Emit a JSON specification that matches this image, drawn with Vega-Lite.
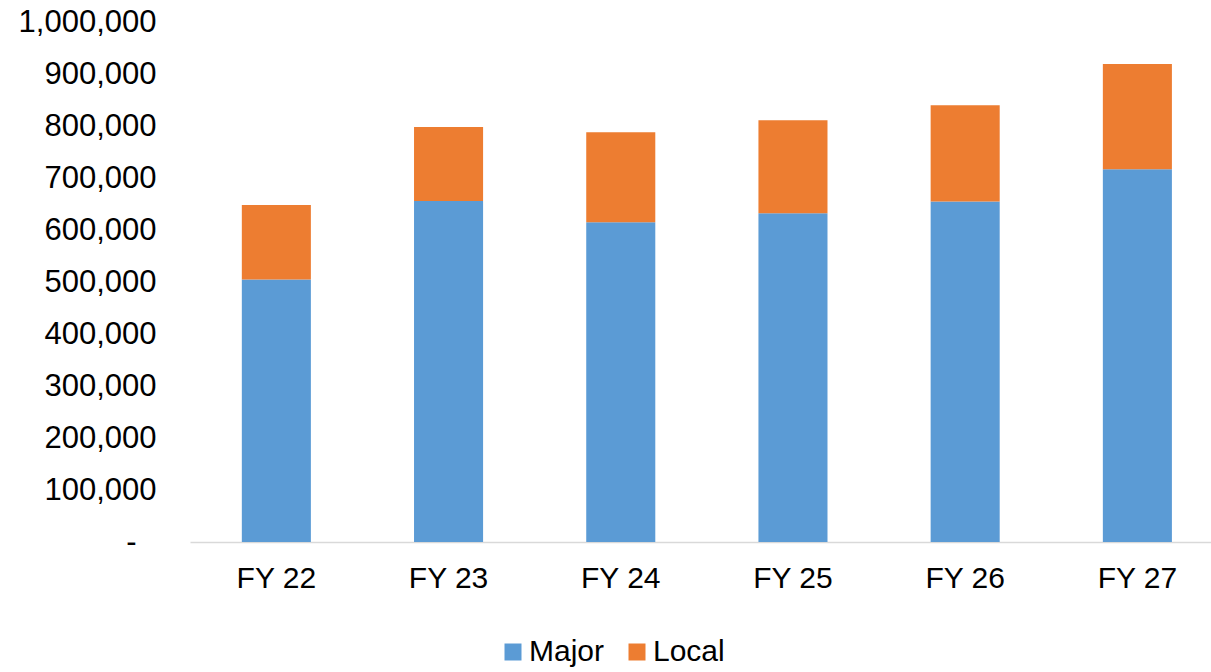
{
  "$schema": "https://vega.github.io/schema/vega-lite/v6.json",
  "width": 1021,
  "height": 520,
  "autosize": {"type": "none"},
  "padding": {"left": 190, "top": 22, "right": 0, "bottom": 130},
  "background": "white",
  "config": {"view": {"stroke": null}, "font": "Liberation Sans"},
  "data": {"values": [
    {"year": "FY 22", "series": "Major", "value": 505000},
    {"year": "FY 22", "series": "Local", "value": 143000},
    {"year": "FY 23", "series": "Major", "value": 656000},
    {"year": "FY 23", "series": "Local", "value": 142000},
    {"year": "FY 24", "series": "Major", "value": 615000},
    {"year": "FY 24", "series": "Local", "value": 173000},
    {"year": "FY 25", "series": "Major", "value": 632000},
    {"year": "FY 25", "series": "Local", "value": 179000},
    {"year": "FY 26", "series": "Major", "value": 655000},
    {"year": "FY 26", "series": "Local", "value": 185000},
    {"year": "FY 27", "series": "Major", "value": 717000},
    {"year": "FY 27", "series": "Local", "value": 202000}
  ]},
  "mark": {"type": "bar"},
  "encoding": {
    "x": {
      "field": "year", "type": "nominal", "title": null,
      "scale": {"paddingInner": 0.599, "paddingOuter": 0.264, "align": 0.57},
      "axis": {"labelAngle": 0, "labelFontSize": 30, "labelColor": "#000000", "labelPadding": 21, "ticks": false, "domainColor": "#D9D9D9", "domainWidth": 1.5, "grid": false}
    },
    "y": {
      "field": "value", "type": "quantitative", "stack": "zero", "title": null,
      "scale": {"domain": [0, 1000000], "nice": false},
      "axis": {"values": [0,100000,200000,300000,400000,500000,600000,700000,800000,900000,1000000], "labelExpr": "datum.value == 0 ? '-' : format(datum.value, ',')", "labelFontSize": 31, "labelColor": "#000000", "labelPadding": {"condition": {"test": "datum.value == 0", "value": 54}, "value": 34}, "ticks": false, "domain": false, "grid": false}
    },
    "color": {
      "field": "series", "type": "nominal", "title": null,
      "scale": {"domain": ["Major", "Local"], "range": ["#5B9BD5", "#ED7D31"]},
      "legend": {"orient": "none", "legendX": 308, "legendY": 615, "direction": "horizontal", "symbolType": "square", "symbolSize": 289, "symbolStrokeWidth": 0, "labelFontSize": 30, "labelColor": "#000000", "columnPadding": 17, "labelOffset": 1}
    },
    "order": {"field": "series", "sort": "descending"}
  }
}
